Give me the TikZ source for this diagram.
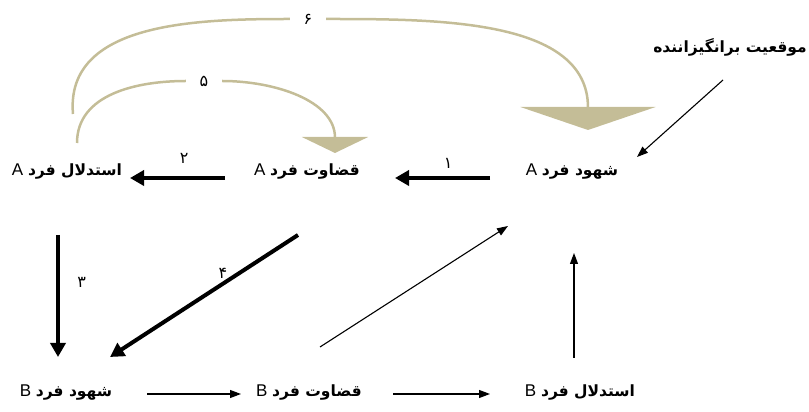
\documentclass[tikz,border=0pt]{standalone}
\usepackage{fontspec}
\setmainfont{Liberation Sans}
\newfontfamily\fa[Script=Arabic]{DejaVu Sans}
\TeXXeTstate=1
\usetikzlibrary{arrows.meta}
\definecolor{arccol}{HTML}{C4BD97}
\newcommand\lbltxt[2]{\beginR{\fa\bfseries\fontsize{15.5}{18}\selectfont #1} #2\endR}
\newcommand\numtxt[1]{{\fa\fontsize{16}{18}\selectfont #1}}
\tikzset{
  lbl/.style={font=\fontsize{17}{20}\selectfont, inner sep=1pt},
  boldarrow/.style={line width=4pt, -{Triangle[width=15pt,length=14pt]}},
  thinarrow/.style={line width=1.1pt, -{Triangle[width=8pt,length=11pt]}},
  arcline/.style={draw=arccol, line width=2.5pt},
  arcnum/.style={inner sep=0pt, minimum width=36pt, minimum height=12pt}
}
\begin{document}
\begin{tikzpicture}[x=1pt,y=1pt]
\useasboundingbox (0,0) rectangle (809,412);
% top row, person A
\node[lbl] (aR) at (67,240) {\lbltxt{استدلال فرد}{A}};
\node[lbl] (aJ) at (307,240) {\lbltxt{قضاوت فرد}{A}};
\node[lbl] (aI) at (572,240) {\lbltxt{شهود فرد}{A}};
\node[lbl] (sit) at (730,365) {\beginR{\fa\bfseries\fontsize{15.5}{18}\selectfont موقعیت برانگیزاننده}\endR};
% bottom row, person B
\node[lbl] (bI) at (66,19) {\lbltxt{شهود فرد}{B}};
\node[lbl] (bJ) at (309,19) {\lbltxt{قضاوت فرد}{B}};
\node[lbl] (bR) at (580,19) {\lbltxt{استدلال فرد}{B}};
% numbers on the two arcs
\node[arcnum] (n5) at (204,331) {\numtxt{۵}};
\node[arcnum] (n6) at (308,393) {\numtxt{۶}};
% thick arrows
\draw[boldarrow] ([shift={(-82,-6)}]aI.center) -- ([shift={(88,-6)}]aJ.center)
  node[pos=0.44, above=4pt] {\numtxt{۱}};
\draw[boldarrow] ([shift={(-82,-6)}]aJ.center) -- ([shift={(63,-6)}]aR.center)
  node[pos=0.43, above=9pt] {\numtxt{۲}};
\draw[boldarrow] ([shift={(-9,-63)}]aR.center) -- ([shift={(-8,36)}]bI.center)
  node[pos=0.39, right=14pt] {\numtxt{۳}};
\draw[boldarrow] ([shift={(-9,-63)}]aJ.center) -- ([shift={(44,36)}]bI.center)
  node[pos=0.4, above=0pt] {\numtxt{۴}};
% thin arrows
\draw[thinarrow] ([shift={(-7,-33)}]sit.center) -- ([shift={(65,15)}]aI.center);
\draw[thinarrow] ([shift={(11,46)}]bJ.center) -- ([shift={(-64,-54)}]aI.center);
\draw[thinarrow] ([shift={(-6,35)}]bR.center) -- ([shift={(2,-81)}]aI.center);
\draw[thinarrow] ([shift={(81,-1)}]bI.center) -- ([shift={(-68,-1)}]bJ.center);
\draw[thinarrow] ([shift={(84,-1)}]bJ.center) -- ([shift={(-90,-1)}]bR.center);
% arcs 5 and 6
\draw[arcline] ([shift={(10,29)}]aR.center) to[out=90,in=180] (n5.west);
\draw[arcline, -{Triangle[width=66pt,length=16pt]}, arccol]
  (n5.east) to[out=0,in=90] ([shift={(28,19)}]aJ.center);
\draw[arcline] ([shift={(6,58)}]aR.center) to[out=95,in=180] (n6.west);
\draw[arcline, -{Triangle[width=135pt,length=23pt]}, arccol]
  (n6.east) to[out=0,in=90] ([shift={(16,42)}]aI.center);
\end{tikzpicture}
\end{document}
